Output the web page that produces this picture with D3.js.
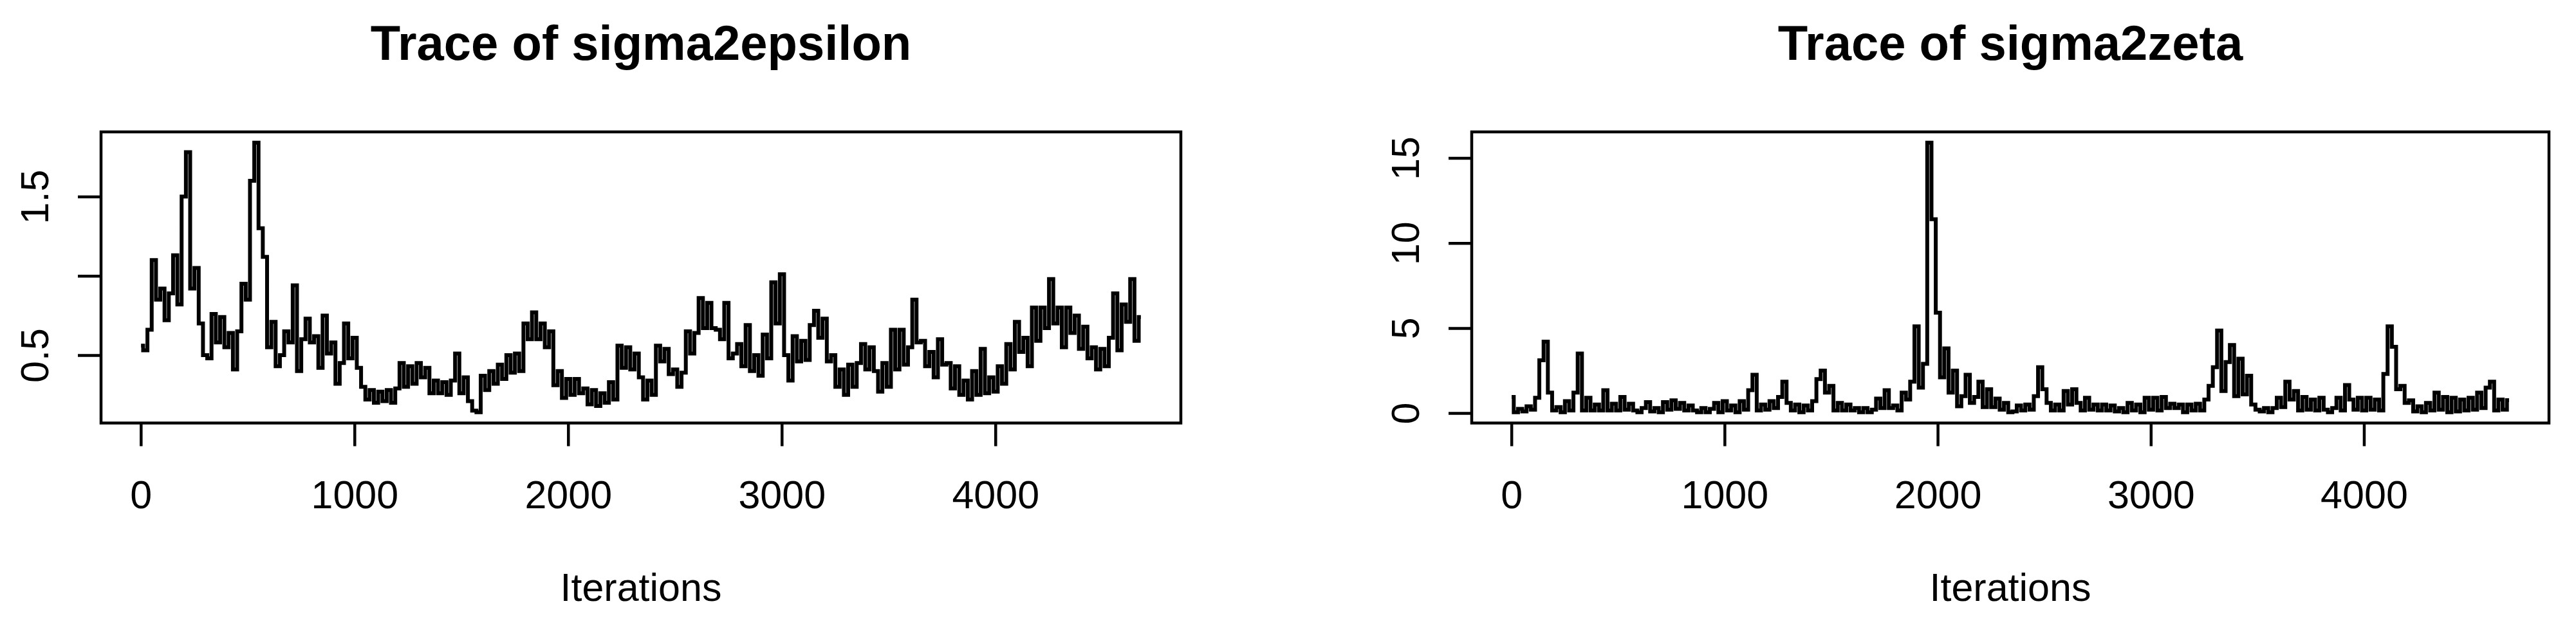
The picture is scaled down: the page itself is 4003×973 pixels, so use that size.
<!DOCTYPE html>
<html>
<head>
<meta charset="utf-8">
<title>Trace plots</title>
<script src="https://cdn.jsdelivr.net/npm/d3@7"></script>
<style>
  html, body { margin: 0; padding: 0; background: #fff; }
  svg { display: block; }
</style>
</head>
<body>
<div id="chart"></div>
<script>
// chain values, one reading every 20 iterations, taken off the trace plots
const ITER_START = 1
const ITER_STEP = 20

const sigma2epsilon = [
  0.56,0.53,0.66,1.10,0.85,0.92,0.72,0.89,1.13,0.82,1.50,1.78,0.92,1.05,0.70,0.50,0.48,0.76,0.58,0.74,
  0.55,0.64,0.41,0.65,0.95,0.85,1.60,1.84,1.30,1.12,0.55,0.71,0.43,0.50,0.65,0.58,0.94,0.40,0.60,0.73,
  0.58,0.62,0.42,0.75,0.51,0.58,0.32,0.45,0.70,0.48,0.61,0.42,0.30,0.22,0.28,0.20,0.27,0.21,0.28,0.20,
  0.29,0.45,0.30,0.43,0.32,0.45,0.36,0.42,0.26,0.34,0.26,0.33,0.25,0.34,0.51,0.26,0.36,0.21,0.15,0.14,
  0.37,0.28,0.40,0.32,0.44,0.35,0.50,0.39,0.51,0.40,0.70,0.60,0.77,0.60,0.70,0.55,0.65,0.31,0.40,0.23,
  0.35,0.25,0.35,0.26,0.29,0.19,0.28,0.18,0.26,0.20,0.33,0.22,0.56,0.42,0.55,0.41,0.51,0.36,0.22,0.34,
  0.25,0.56,0.46,0.54,0.38,0.41,0.30,0.39,0.65,0.51,0.64,0.86,0.67,0.83,0.67,0.66,0.60,0.83,0.48,0.51,
  0.57,0.43,0.69,0.40,0.50,0.37,0.63,0.48,0.96,0.70,1.01,0.50,0.34,0.62,0.46,0.59,0.47,0.69,0.78,0.61,
  0.73,0.46,0.50,0.30,0.41,0.25,0.44,0.30,0.45,0.57,0.41,0.55,0.40,0.27,0.45,0.30,0.66,0.41,0.66,0.44,
  0.55,0.85,0.58,0.59,0.43,0.52,0.36,0.60,0.44,0.45,0.29,0.43,0.25,0.34,0.22,0.40,0.25,0.54,0.26,0.36,
  0.27,0.43,0.32,0.57,0.41,0.71,0.52,0.61,0.43,0.80,0.59,0.80,0.67,0.98,0.70,0.80,0.55,0.80,0.64,0.75,
  0.54,0.68,0.48,0.55,0.41,0.54,0.43,0.61,0.89,0.53,0.82,0.71,0.98,0.59,0.74
]

const sigma2zeta = [
  0.95,0.05,0.25,0.10,0.40,0.20,0.90,3.10,4.20,1.20,0.15,0.35,0.05,0.70,0.15,1.20,3.50,0.15,0.90,0.15,
  0.50,0.15,1.35,0.15,0.55,0.15,0.95,0.20,0.55,0.15,0.05,0.30,0.65,0.10,0.30,0.05,0.65,0.20,0.75,0.25,
  0.60,0.15,0.45,0.15,0.05,0.30,0.05,0.25,0.60,0.05,0.70,0.15,0.45,0.05,0.70,0.20,1.35,2.25,0.15,0.50,
  0.20,0.70,0.30,0.95,1.85,0.60,0.15,0.50,0.05,0.45,0.15,0.70,2.00,2.50,1.20,1.60,0.15,0.60,0.15,0.50,
  0.15,0.30,0.05,0.30,0.05,0.20,0.85,0.30,1.35,0.30,0.45,0.15,1.20,0.80,1.85,5.10,1.50,2.90,15.90,11.40,
  5.90,2.10,3.80,1.20,2.50,0.40,1.00,2.25,0.60,0.95,1.85,0.35,1.40,0.35,0.85,0.20,0.60,0.05,0.10,0.45,
  0.15,0.50,0.20,1.00,2.70,1.40,0.60,0.15,0.50,0.15,1.30,0.50,1.40,0.60,0.15,0.90,0.20,0.50,0.15,0.50,
  0.15,0.45,0.10,0.30,0.05,0.60,0.15,0.50,0.05,0.90,0.20,0.90,0.15,0.95,0.30,0.55,0.30,0.50,0.05,0.50,
  0.15,0.55,0.15,0.80,1.60,2.70,4.85,1.30,3.00,4.00,1.00,3.20,1.10,2.20,0.50,0.20,0.10,0.30,0.05,0.30,
  0.90,0.35,1.85,0.80,1.30,0.15,0.95,0.20,0.80,0.15,0.90,0.20,0.05,0.30,0.90,0.15,1.65,0.80,0.20,0.90,
  0.15,0.90,0.20,0.80,0.15,2.30,5.10,3.90,1.40,1.60,0.60,0.75,0.10,0.40,0.05,0.60,0.15,1.20,0.20,0.95,
  0.05,0.90,0.10,0.80,0.15,0.90,0.20,1.20,0.30,1.50,1.85,0.15,0.80,0.20,0.76
]

const titles = ['Trace of sigma2epsilon', 'Trace of sigma2zeta']
const xLabel = 'Iterations'
const xTicks = [0, 1000, 2000, 3000, 4000]
const epsTicks = [0.5, 1.0, 1.5]
const epsTickLabels = ['0.5', '', '1.5']   // R drops the 1.0 label, it would overlap
const zetaTicks = [0, 5, 10, 15]
const zetaTickLabels = ['0', '5', '10', '15']

// page layout
const W = 4003, H = 973
const TOP = 205, BOTTOM = 657.5
const LW = 4.5                 // box and tick width
const TRACE_LW = 6             // the trace reads heavier in the original
const FONT = '"Liberation Sans", Arial, Helvetica, sans-serif'
const TICK_FS = 61, TITLE_FS = 76

const panels = [
  { title: titles[0], values: sigma2epsilon, ticks: epsTicks, labels: epsTickLabels, left: 157, right: 1835 },
  { title: titles[1], values: sigma2zeta, ticks: zetaTicks, labels: zetaTickLabels, left: 2287, right: 3961 }
]

// R pads the data range by 4% on each side
function rRange(ext) {
  const pad = (ext[1] - ext[0]) * 0.04
  return [ext[0] - pad, ext[1] + pad]
}

const svg = d3.select('#chart').append('svg')
  .attr('width', W)
  .attr('height', H)

svg.append('rect').attr('width', W).attr('height', H).attr('fill', '#fff')

panels.forEach(p => {
  const data = p.values.map((v, i) => ({ iter: ITER_START + i * ITER_STEP, v: v }))

  const x = d3.scaleLinear()
    .domain(rRange(d3.extent(data, d => d.iter)))
    .range([p.left, p.right])
  const y = d3.scaleLinear()
    .domain(rRange(d3.extent(data, d => d.v)))
    .range([BOTTOM, TOP])

  const g = svg.append('g')

  // trace
  const line = d3.line()
    .x(d => x(d.iter))
    .y(d => y(d.v))
    .curve(d3.curveStep)

  g.append('path')
    .datum(data)
    .attr('d', line)
    .attr('fill', 'none')
    .attr('stroke', '#000')
    .attr('stroke-width', TRACE_LW)
    .attr('stroke-linejoin', 'miter')

  // box
  g.append('rect')
    .attr('x', p.left)
    .attr('y', TOP)
    .attr('width', p.right - p.left)
    .attr('height', BOTTOM - TOP)
    .attr('fill', 'none')
    .attr('stroke', '#000')
    .attr('stroke-width', LW)

  // x axis
  const gx = g.append('g')
    .attr('transform', `translate(0,${BOTTOM})`)
    .call(d3.axisBottom(x).tickValues(xTicks).tickSize(36).tickFormat(d3.format('d')))
  gx.select('.domain').remove()
  gx.selectAll('.tick line').attr('stroke', '#000').attr('stroke-width', LW)
  gx.selectAll('.tick text')
    .attr('y', 132)
    .attr('dy', null)
    .attr('fill', '#000')
    .attr('font-size', TICK_FS)
    .attr('font-family', FONT)

  // y axis, labels turned like R's default las = 0
  const gy = g.append('g')
    .attr('transform', `translate(${p.left},0)`)
    .call(d3.axisLeft(y).tickValues(p.ticks).tickSize(36).tickFormat((d, i) => p.labels[i]))
  gy.select('.domain').remove()
  gy.selectAll('.tick line').attr('stroke', '#000').attr('stroke-width', LW)
  gy.selectAll('.tick text')
    .attr('x', 0)
    .attr('y', -82)
    .attr('dy', null)
    .attr('transform', 'rotate(-90)')
    .attr('text-anchor', 'middle')
    .attr('fill', '#000')
    .attr('font-size', TICK_FS)
    .attr('font-family', FONT)

  const cx = (p.left + p.right) / 2

  g.append('text')
    .attr('x', cx)
    .attr('y', 93)
    .attr('text-anchor', 'middle')
    .attr('font-family', FONT)
    .attr('font-weight', 'bold')
    .attr('font-size', TITLE_FS)
    .text(p.title)

  g.append('text')
    .attr('x', cx)
    .attr('y', 934)
    .attr('text-anchor', 'middle')
    .attr('font-family', FONT)
    .attr('font-size', TICK_FS)
    .text(xLabel)
})
</script>
</body>
</html>
